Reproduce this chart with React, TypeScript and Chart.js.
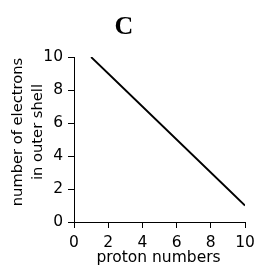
import React, { useEffect, useRef } from "react";
import { Chart, registerables } from "chart.js";

Chart.register(...registerables);

const protonNumbers = [1, 2, 3, 4, 5, 6, 7, 8, 9, 10];
const electronsInOuterShell = [10, 9, 8, 7, 6, 5, 4, 3, 2, 1];
const xTicks = [0, 2, 4, 6, 8, 10];
const yTicks = [0, 2, 4, 6, 8, 10];
const titleText = "C";
const xTitle = "proton numbers";
const yTitleLines = ["number of electrons", "in outer shell"];

const FONT = "'DejaVu Sans', sans-serif";

const textPlugin = {
  id: "customText",
  afterDraw(chart: any) {
    const ctx = chart.ctx;
    const area = chart.chartArea;
    ctx.save();
    ctx.fillStyle = "#000";
    ctx.textAlign = "center";
    ctx.textBaseline = "middle";
    ctx.font = "bold 26px 'Liberation Serif', serif";
    ctx.fillText(titleText, 124, 27);
    ctx.font = `15.5px ${FONT}`;
    ctx.fillText(xTitle, (area.left + area.right) / 2 - 1, 258);
    ctx.font = `14.7px ${FONT}`;
    const cy = 132;
    const xs = [18, 38];
    yTitleLines.forEach((line, i) => {
      ctx.save();
      ctx.translate(xs[i], cy);
      ctx.rotate(-Math.PI / 2);
      ctx.fillText(line, 0, 0);
      ctx.restore();
    });
    ctx.restore();
  },
};

export default function App() {
  const ref = useRef<HTMLCanvasElement>(null);
  useEffect(() => {
    if (!ref.current) return;
    const chart = new Chart(ref.current, {
      type: "line",
      data: {
        datasets: [
          {
            data: protonNumbers.map((x, i) => ({ x, y: electronsInOuterShell[i] })),
            borderColor: "#000",
            borderWidth: 1.8,
            pointRadius: 0,
            tension: 0,
          },
        ],
      },
      options: {
        animation: false,
        responsive: true,
        maintainAspectRatio: false,
        layout: { padding: { top: 57, right: 9, left: 0, bottom: 0 } },
        plugins: { legend: { display: false }, tooltip: { enabled: false }, title: { display: false } },
        scales: {
          x: {
            type: "linear",
            min: 0,
            max: 10,
            afterFit: (s: any) => { s.height = 45; s.paddingLeft = 0; s.paddingRight = 0; },
            afterBuildTicks: (s: any) => { s.ticks = xTicks.map((v) => ({ value: v })); },
            grid: { display: true, drawOnChartArea: false, drawTicks: true, tickLength: 6, color: "#000", lineWidth: 1 },
            border: { display: true, color: "#000", width: 1 },
            ticks: { color: "#000", font: { family: FONT, size: 15.5 }, padding: 6, maxRotation: 0, autoSkip: false },
          },
          y: {
            type: "linear",
            min: 0,
            max: 10,
            afterFit: (s: any) => { s.width = 74; s.paddingTop = 0; s.paddingBottom = 0; },
            afterBuildTicks: (s: any) => { s.ticks = yTicks.map((v) => ({ value: v })); },
            grid: { display: true, drawOnChartArea: false, drawTicks: true, tickLength: 6, color: "#000", lineWidth: 1 },
            border: { display: true, color: "#000", width: 1 },
            ticks: { color: "#000", font: { family: FONT, size: 15.5 }, padding: 5, autoSkip: false },
          },
        },
      },
      plugins: [textPlugin],
    });
    return () => chart.destroy();
  }, []);
  return (
    <div style={{ position: "absolute", left: 0, top: 0, width: 254, height: 267, background: "#fff" }}>
      <canvas ref={ref} />
    </div>
  );
}
